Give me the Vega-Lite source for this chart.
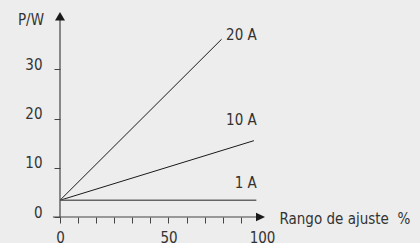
{
  "$schema": "https://vega.github.io/schema/vega-lite/v6.json",
  "width": 222.2,
  "height": 197,
  "autosize": "none",
  "padding": {"left": 60, "top": 20, "right": 137.8, "bottom": 26},
  "background": "#ecedec",
  "config": {"view": {"stroke": null}, "font": "'DejaVu Sans Condensed', Roboto, sans-serif"},
  "datasets": {
    "lines": [
      {"series": "20 A", "x": 0, "p": 3.4},
      {"series": "20 A", "x": 80, "p": 36.1},
      {"series": "10 A", "x": 0, "p": 3.4},
      {"series": "10 A", "x": 96, "p": 15.5},
      {"series": "1 A", "x": 0, "p": 3.4},
      {"series": "1 A", "x": 97.2, "p": 3.4}
    ],
    "labels": [
      {"label": "20 A", "x": 97.4, "p": 36.9},
      {"label": "10 A", "x": 97.4, "p": 19.75},
      {"label": "1 A", "x": 97.4, "p": 7.0}
    ]
  },
  "layer": [
    {
      "data": {"name": "lines"},
      "mark": {"type": "line", "clip": false},
      "encoding": {
        "x": {
          "field": "x", "type": "quantitative",
          "scale": {"domain": [0, 110], "nice": false, "zero": false},
          "axis": {
            "values": [0, 8.95, 17.9, 26.85, 35.8, 44.75, 53.7, 62.65, 71.6, 80.55, 89.5, 100],
            "tickCount": 30,
            "domain": false, "grid": false,
            "tickSize": 6, "tickWidth": 1,
            "tickColor": {"condition": {"test": "datum.value > 95", "value": "transparent"}, "value": "#444"},
            "labelExpr": "datum.value == 0 ? '0' : datum.value == 53.7 ? '50' : datum.value == 100 ? '100' : ''",
            "labelFontSize": 15, "labelColor": "#333", "labelPadding": 7,
            "labelOverlap": false, "labelFlush": false, "labelBound": false,
            "title": "Rango de ajuste\u00a0 %",
            "titleFontSize": 15, "titleFontWeight": "normal", "titleColor": "#333",
            "titleX": 219, "titleY": 1, "titleAlign": "left", "titleBaseline": "middle", "titleAngle": 0
          }
        },
        "y": {
          "field": "p", "type": "quantitative",
          "scale": {"domain": [0, 40], "nice": false, "zero": false},
          "axis": {
            "values": [0, 10, 20, 30],
            "tickCount": 10,
            "domain": false, "grid": false,
            "tickSize": 6, "tickColor": "#444", "tickWidth": 1,
            "labelFontSize": 15, "labelColor": "#333", "labelPadding": 12, "labelOffset": -5,
            "title": "P/W",
            "titleFontSize": 15, "titleFontWeight": "normal", "titleColor": "#333",
            "titleX": -29.5, "titleY": -0.5, "titleAlign": "center", "titleBaseline": "middle", "titleAngle": 0
          }
        },
        "detail": {"field": "series"},
        "color": {"condition": {"test": "datum.series === '1 A'", "value": "#666"}, "value": "#1a1a1a"},
        "strokeWidth": {"condition": {"test": "datum.series === '1 A'", "value": 1.6}, "value": 1}
      }
    },
    {
      "data": {"name": "labels"},
      "mark": {"type": "text", "align": "right", "baseline": "middle", "fontSize": 15, "color": "#333", "clip": false},
      "encoding": {
        "x": {"field": "x", "type": "quantitative"},
        "y": {"field": "p", "type": "quantitative"},
        "text": {"field": "label"}
      }
    },
    {
      "data": {"values": [{}]},
      "mark": {"type": "rule", "color": "#444", "strokeWidth": 1.2, "clip": false},
      "encoding": {
        "x": {"datum": 0},
        "y": {"datum": 0},
        "y2": {"datum": 40.5}
      }
    },
    {
      "data": {"values": [{}]},
      "mark": {"type": "rule", "color": "#444", "strokeWidth": 1.2, "clip": false},
      "encoding": {
        "x": {"datum": -3.5},
        "x2": {"datum": 98},
        "y": {"datum": 0}
      }
    },
    {
      "data": {"values": [{}]},
      "mark": {"type": "point", "filled": true, "opacity": 1, "color": "#1a1a1a", "size": 100, "shape": "M0,0L-1,1.7L1,1.7Z", "clip": false},
      "encoding": {
        "x": {"datum": 0},
        "y": {"datum": 41.6}
      }
    },
    {
      "data": {"values": [{}]},
      "mark": {"type": "point", "filled": true, "opacity": 1, "color": "#1a1a1a", "size": 100, "shape": "M0,0L-1.8,-0.87L-1.8,0.87Z", "clip": false},
      "encoding": {
        "x": {"datum": 101.5},
        "y": {"datum": 0}
      }
    }
  ]
}
